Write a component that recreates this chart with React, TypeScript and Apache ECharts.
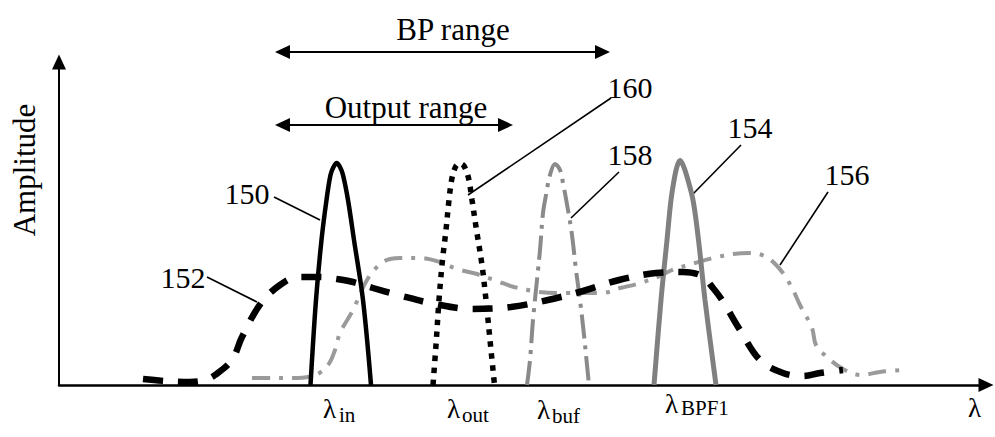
import React, { useEffect, useRef } from "react";
import * as echarts from "echarts";

// Curve values in arbitrary units (x: wavelength, y: amplitude)
const curve150 = [[25.15,0],[25.7,8.5],[26.25,14.5],[26.75,18.5],[27.15,21.0],[27.45,21.8],[27.77,22.2],[28.1,21.8],[28.4,21.0],[28.9,18.5],[29.5,14.5],[30.4,8.5],[31.2,0]];
const curve160 = [[37.4,0],[37.7,4.0],[38.0,8.5],[38.35,12.5],[38.7,15.5],[39.0,18.5],[39.3,20.7],[39.7,21.9],[40.1,22.15],[40.5,21.9],[40.95,20.7],[41.3,18.5],[41.75,15.5],[42.3,12.0],[42.7,8.5],[43.15,4.0],[43.55,0]];
const curve158 = [[46.8,0],[47.1,2.5],[47.4,6.5],[47.8,10.5],[48.1,13.5],[48.4,17.2],[48.7,19.0],[49.1,21.0],[49.6,22.1],[50.1,21.5],[50.4,20.2],[50.9,17.5],[51.3,15.0],[51.7,11.5],[52.1,8.5],[52.5,5.0],[52.8,2.0],[53.0,0]];
const curve154 = [[59.5,0],[60.2,8.5],[60.8,14.5],[61.2,18.5],[61.6,21.0],[61.85,22.0],[62.1,22.45],[62.4,22.0],[62.75,21.0],[63.4,18.5],[63.95,14.5],[64.6,8.5],[65.7,0]];
const curve152 = [[8.4,0.6],[10.6,0.4],[13.1,0.3],[14.6,0.5],[15.6,1.0],[17.3,2.5],[18.3,4.8],[20.2,8.2],[22.1,10.0],[23.9,10.8],[26.1,10.8],[27.8,10.6],[29.4,10.3],[31.4,9.7],[33.9,9.0],[37.6,8.1],[41.3,7.6],[45.2,7.8],[48.9,8.5],[52.4,9.4],[56.0,10.5],[59.7,11.2],[62.4,11.3],[64.3,10.9],[65.4,9.7],[66.3,8.5],[68.1,5.5],[70.1,2.5],[72.4,1.2],[74.4,0.9],[76.1,1.2],[78.4,1.5]];
const curve156 = [[19.3,0.7],[21.4,0.7],[23.1,0.7],[25.4,0.9],[26.9,2.0],[27.6,3.5],[28.1,5.2],[29.4,7.5],[30.8,10.5],[32.4,12.3],[34.1,12.7],[36.1,12.7],[38.1,12.3],[39.8,11.6],[41.8,11.1],[43.8,10.4],[45.5,9.8],[48.1,9.3],[50.6,9.2],[54.3,9.2],[56.1,9.7],[57.8,10.1],[60.1,10.9],[61.3,11.5],[63.6,12.2],[65.4,12.7],[67.4,13.1],[69.2,13.2],[70.9,12.7],[72.4,11.2],[73.4,9.5],[74.1,8.0],[75.3,5.7],[75.7,4.0],[76.8,2.8],[78.4,1.6],[80.2,1.0],[82.1,1.3],[84.3,1.5]];

const xMax = 92.7;
const yMax = 32.3;

const calloutLabels = ["150", "152", "154", "156", "158", "160"];
const lambdaSubs = ["in", "out", "buf", "BPF1"];
const rangeLabels = ["BP range", "Output range"];
const yAxisName = "Amplitude";
const xAxisName = "λ";

const SERIF = "Liberation Serif";

export default function App() {
  const ref = useRef<HTMLDivElement>(null);
  useEffect(() => {
    const chart = echarts.init(ref.current!, null, { renderer: "svg" });

    const txt = (text: string, x: number, y: number, size: number, align = "center", extra: any = {}) => ({
      type: "text",
      x,
      y,
      ...extra,
      style: {
        text,
        font: `${size}px "${SERIF}"`,
        fontSize: size,
        fontFamily: SERIF,
        fill: "#000",
        align,
        textAlign: align,
        verticalAlign: "middle",
        textVerticalAlign: "middle",
      },
    });
    const seg = (x1: number, y1: number, x2: number, y2: number, w = 1.6) => ({
      type: "line",
      shape: { x1, y1, x2, y2 },
      style: { stroke: "#000", lineWidth: w },
    });
    const dblArrow = (xl: number, xr: number, y: number) => [
      seg(xl + 12, y, xr - 12, y, 2.2),
      { type: "polygon", shape: { points: [[xl, y], [xl + 15, y - 7], [xl + 15, y + 7]] }, style: { fill: "#000" } },
      { type: "polygon", shape: { points: [[xr, y], [xr - 15, y - 7], [xr - 15, y + 7]] }, style: { fill: "#000" } },
    ];

    const lam = (xl: number, yl: number, sub: string, xs: number, ys: number) => [
      txt("λ", xl, yl, 27, "left"),
      txt(sub, xs, ys, 21, "left"),
    ];

    const graphic: any[] = [
      txt(rangeLabels[0], 453, 29, 31),
      ...dblArrow(275, 610, 52),
      txt(rangeLabels[1], 406, 107, 31),
      ...dblArrow(275, 513, 125),
      txt(yAxisName, 24, 170, 31, "center", { rotation: Math.PI / 2 }),
      txt(calloutLabels[0], 247, 193, 30),
      seg(274, 197, 320, 220),
      txt(calloutLabels[1], 183, 277, 30),
      seg(207, 277, 257, 302),
      txt(calloutLabels[5], 630, 87, 30),
      seg(611, 98, 468, 195),
      txt(calloutLabels[4], 630, 154, 30),
      seg(619, 172, 571, 218),
      txt(calloutLabels[2], 750, 127, 30),
      seg(741, 145, 692, 195),
      txt(calloutLabels[3], 847, 174, 30),
      seg(828, 192, 780, 265),
      ...lam(323, 409, lambdaSubs[0], 339, 415),
      ...lam(447, 409, lambdaSubs[1], 462, 415),
      ...lam(537, 410, lambdaSubs[2], 552, 416),
      ...lam(665, 404, lambdaSubs[3], 681, 408),
      txt(xAxisName, 968, 408, 27, "left"),
    ];

    const base = { type: "line", symbol: "none", smooth: 0.35, silent: true };

    chart.setOption({
      animation: false,
      backgroundColor: "#fff",
      grid: { left: 59, right: 9, top: 62, bottom: 52 },
      xAxis: {
        type: "value",
        min: 0,
        max: xMax,
        axisLine: { show: true, symbol: ["none", "triangle"], symbolSize: [14, 15], lineStyle: { color: "#000", width: 2.5 } },
        axisTick: { show: false },
        axisLabel: { show: false },
        splitLine: { show: false },
      },
      yAxis: {
        type: "value",
        min: 0,
        max: yMax,
        axisLine: { show: true, symbol: ["none", "triangle"], symbolSize: [14, 15], lineStyle: { color: "#000", width: 2 } },
        axisTick: { show: false },
        axisLabel: { show: false },
        splitLine: { show: false },
      },
      series: [
        { ...base, name: "156", data: curve156, lineStyle: { color: "#9a9a9a", width: 4, type: [18, 9, 4, 9], cap: "butt" } },
        { ...base, name: "158", data: curve158, lineStyle: { color: "#8a8a8a", width: 4, type: [24, 7, 4, 7], cap: "butt" } },
        { ...base, name: "154", data: curve154, lineStyle: { color: "#808080", width: 5 } },
        { ...base, name: "152", data: curve152, lineStyle: { color: "#000", width: 6.5, type: [20, 15], cap: "butt" } },
        { ...base, name: "160", data: curve160, lineStyle: { color: "#000", width: 5.5, type: [5.5, 6.5], cap: "butt" } },
        { ...base, name: "150", data: curve150, lineStyle: { color: "#000", width: 4.5 } },
      ],
      graphic,
    });
    return () => chart.dispose();
  }, []);
  return <div ref={ref} style={{ position: "fixed", left: 0, top: 0, width: 995, height: 437, background: "#fff" }} />;
}
